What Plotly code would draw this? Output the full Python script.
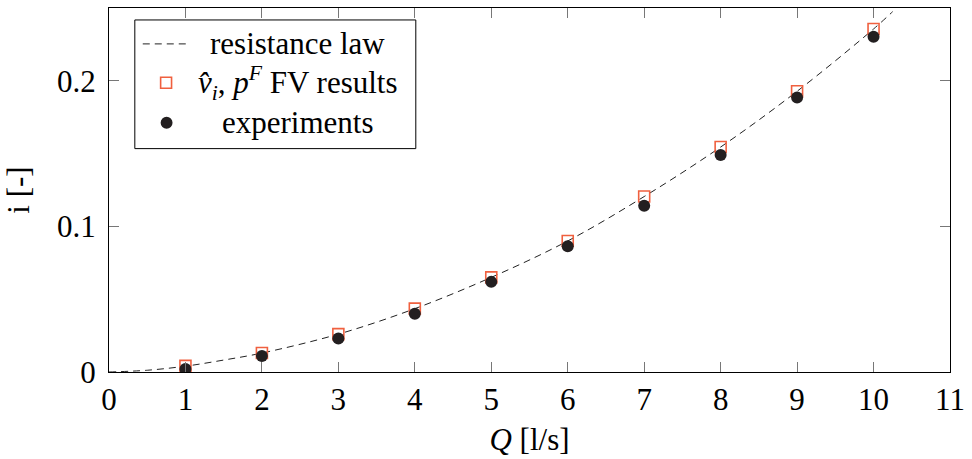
import plotly.graph_objects as go

# resistance law curve
law_q = [0, 0.5, 1, 1.5, 2, 3, 4, 5, 6, 7, 8, 9, 10, 10.25]
law_i = [0, 0.0012, 0.0040, 0.0082, 0.0130, 0.0260, 0.0435, 0.0650, 0.0900, 0.1205, 0.1545, 0.1928, 0.2356, 0.2475]

# FV results (squares)
fv_q = [1, 2, 3, 4, 5, 6, 7, 8, 9, 10]
fv_i = [0.0042, 0.0130, 0.0260, 0.0435, 0.0650, 0.0900, 0.1205, 0.1545, 0.1928, 0.2356]

# experiments (circles)
exp_q = [1, 2, 3, 4, 5, 6, 7, 8, 9, 10]
exp_i = [0.0020, 0.0110, 0.0230, 0.0400, 0.0619, 0.0863, 0.1142, 0.1490, 0.1886, 0.2303]

x_ticks = list(range(0, 12))
y_ticks = [0, 0.1, 0.2]
y_tick_labels = ["0", "0.1", "0.2"]

legend_labels = [
    "resistance law",
    "<i>v̂</i><sub><i>i</i></sub>, <i>p</i><sup><i>F</i></sup> FV results",
    "experiments",
]

FONT = "Liberation Serif"
FS = 31
LINE_COL = "#222222"
SQ_COL = "#f0603f"
DOT_COL = "#231f20"

fig = go.Figure()
fig.add_trace(go.Scatter(
    x=law_q, y=law_i, mode="lines", line=dict(color=LINE_COL, width=1, dash="7px,5px", shape="spline"),
    name=legend_labels[0]))
fig.add_trace(go.Scatter(
    x=fv_q, y=fv_i, mode="markers",
    marker=dict(symbol="square-open", size=11, color=SQ_COL, line=dict(width=1.6, color=SQ_COL)),
    name=legend_labels[1]))
fig.add_trace(go.Scatter(
    x=exp_q, y=exp_i, mode="markers",
    marker=dict(symbol="circle", size=12, color=DOT_COL),
    name=legend_labels[2]))

# ---- manual legend (paper coordinates, pgfplots style, centered text) ----
PW, PH = 847.0, 365.0
def px(xp):
    return (xp - 109) / PW
def py(yp):
    return (372 - yp) / PH

box = dict(x0=135, x1=418, y0=19, y1=148)
rows = [43, 82, 122]
text_cx = 299

shapes = [
    dict(type="rect", xref="paper", yref="paper",
         x0=px(box["x0"]), x1=px(box["x1"]), y0=py(box["y1"]), y1=py(box["y0"]),
         fillcolor="white", line=dict(color="black", width=1), layer="above"),
    dict(type="line", xref="paper", yref="paper",
         x0=px(143), x1=px(190), y0=py(rows[0]), y1=py(rows[0]),
         line=dict(color=LINE_COL, width=1, dash="7px,5px"), layer="above"),
    dict(type="rect", xref="paper", yref="paper",
         x0=px(161), x1=px(172), y0=py(rows[1] + 5.5), y1=py(rows[1] - 5.5),
         fillcolor="white", line=dict(color=SQ_COL, width=1.6), layer="above"),
    dict(type="circle", xref="paper", yref="paper",
         x0=px(161), x1=px(173), y0=py(rows[2] + 6), y1=py(rows[2] - 6),
         fillcolor=DOT_COL, line=dict(color=DOT_COL, width=0), layer="above"),
]
annotations = [
    dict(xref="paper", yref="paper", x=px(text_cx), y=py(r), text=t, showarrow=False,
         xanchor="center", yanchor="middle", font=dict(family=FONT, size=FS, color="black"))
    for r, t in zip(rows, legend_labels)
]

fig.update_layout(
    width=972, height=459,
    margin=dict(l=109, r=16, t=7, b=87),
    paper_bgcolor="white", plot_bgcolor="white",
    font=dict(family=FONT, size=FS, color="black"),
    showlegend=False,
    shapes=shapes,
    annotations=annotations,
    xaxis=dict(range=[0, 11], tickvals=x_ticks, ticktext=[str(v) for v in x_ticks],
               showgrid=False, zeroline=False, showline=True, linecolor="black", linewidth=1.2,
               mirror="ticks", ticks="inside", ticklen=10, tickcolor="#777777", tickwidth=1,
               tickfont=dict(family=FONT, size=FS),
               title=dict(text="<i>Q</i> [l/s]", font=dict(family=FONT, size=FS), standoff=12)),
    yaxis=dict(range=[0, 0.25], tickvals=y_ticks, ticktext=y_tick_labels,
               showgrid=False, zeroline=False, showline=True, linecolor="black", linewidth=1.2,
               mirror="ticks", ticks="inside", ticklen=10, tickcolor="#777777", tickwidth=1,
               tickfont=dict(family=FONT, size=FS), ticklabelstandoff=6,
               title=dict(text="i [-]", font=dict(family=FONT, size=FS), standoff=18)),
)

fig.write_html("out.html")
